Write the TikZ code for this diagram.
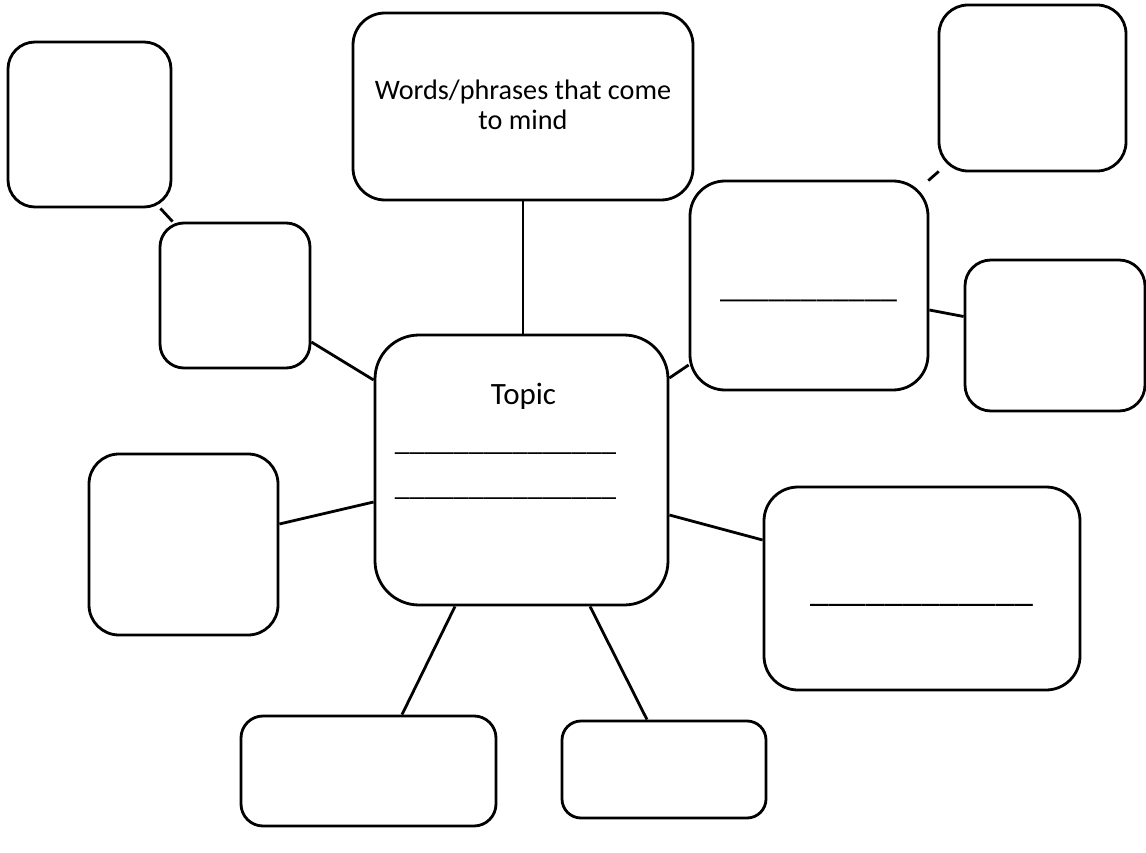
\documentclass[tikz,border=0pt]{standalone}
\usepackage{fontspec}
\setmainfont{Carlito}
\begin{document}
\begin{tikzpicture}[x=1pt,y=-1pt,
  box/.style={draw=black,line width=2.8pt,inner sep=0pt,fill=white},
  conn/.style={draw=black,line width=2.8pt},
  lbl/.style={inner sep=0pt,font=\fontsize{28.2}{30}\selectfont,align=center},
  uline/.style={inner sep=0pt,anchor=base}]
\useasboundingbox (0,0) rectangle (1146,853);
% boxes
\node[box,rounded corners=27pt,minimum width=163pt,minimum height=165pt] (b1) at (89.5,124.5) {};
\node[box,rounded corners=24pt,minimum width=150pt,minimum height=145pt] (b2) at (235,295.5) {};
\node[box,rounded corners=32pt,minimum width=340pt,minimum height=187pt] (btop) at (523,106.5) {};
\node[box,rounded corners=29pt,minimum width=187pt,minimum height=166pt] (b4) at (1032.5,88) {};
\node[box,rounded corners=35pt,minimum width=238pt,minimum height=209pt] (b5) at (809,285.5) {};
\node[box,rounded corners=26pt,minimum width=180pt,minimum height=151pt] (b6) at (1055,335.5) {};
\node[box,rounded corners=44pt,minimum width=293pt,minimum height=270pt] (topic) at (521.5,470) {};
\node[box,rounded corners=30pt,minimum width=189pt,minimum height=181pt] (b8) at (183.5,544.5) {};
\node[box,rounded corners=34pt,minimum width=316pt,minimum height=203pt] (b9) at (922,588.5) {};
\node[box,rounded corners=22pt,minimum width=255pt,minimum height=110pt] (b10) at (368.5,771) {};
\node[box,rounded corners=19pt,minimum width=204pt,minimum height=97pt] (b11) at (664,769.5) {};
% connectors
\draw[conn] ([xshift=-12pt]b1.south east) -- ([xshift=14pt]b2.north west);
\draw[conn] ([yshift=-46.5pt]b2.east) -- ([yshift=90pt]topic.west);
\draw[conn] (btop.south) -- (btop.south |- topic.north);
\draw[conn] ([yshift=-79.5pt]b5.west) -- ([yshift=92pt]topic.east);
\draw[conn,shorten <=-1.5pt,shorten >=-1.5pt] (b5.north east) -- (b4.south west);
\draw[conn] ([yshift=-24.5pt]b5.east) -- ([yshift=19pt]b6.west);
\draw[conn] ([yshift=20.5pt]b8.east) -- ([yshift=-32pt]topic.west);
\draw[conn] ([yshift=-45pt]topic.east) -- ([yshift=48.5pt]b9.west);
\draw[conn] ([xshift=-66.5pt]topic.south) -- ([xshift=33.5pt]b10.north);
\draw[conn] ([xshift=68.5pt]topic.south) -- ([xshift=-17pt]b11.north);
% texts
\node[lbl] (tw) at (523,105) {Words/phrases that come\\to mind};
\node[lbl,anchor=base,font=\fontsize{31}{33}\selectfont] (tt) at (523.5,404) {Topic};
\node[uline,font=\fontsize{29.6}{30}\selectfont] (tu1) at (505.5,450) {\_\_\_\_\_\_\_\_\_\_\_\_\_\_\_};
\node[uline,font=\fontsize{29.6}{30}\selectfont] (tu2) at (505.5,495) {\_\_\_\_\_\_\_\_\_\_\_\_\_\_\_};
\node[uline,font=\fontsize{32.3}{34}\selectfont] (u5) at (808.5,297) {\_\_\_\_\_\_\_\_\_\_\_};
\node[uline,font=\fontsize{37.3}{38}\selectfont] (u9) at (921.5,601) {\_\_\_\_\_\_\_\_\_\_\_\_};
\end{tikzpicture}
\end{document}
